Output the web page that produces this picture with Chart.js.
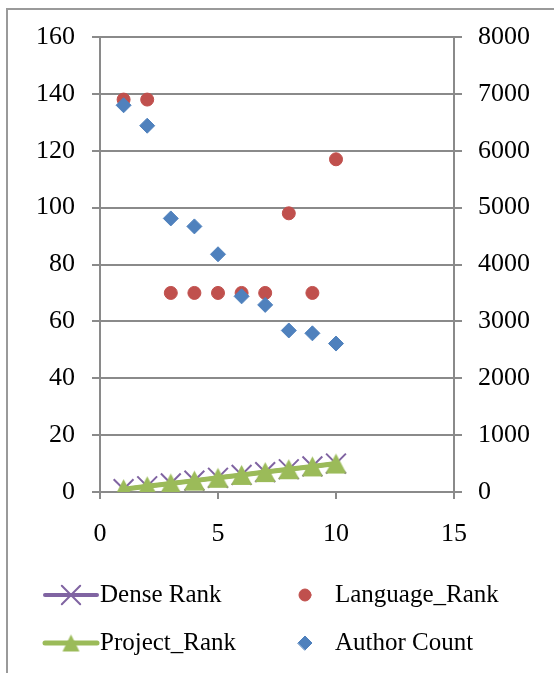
<!DOCTYPE html>
<html>
<head>
<meta charset="utf-8">
<title>Rank chart</title>
<script src="https://cdn.jsdelivr.net/npm/chart.js@4"></script>
<style>
  html, body { margin: 0; padding: 0; background: #fff; }
  #wrap { position: relative; width: 554px; height: 673px; }
</style>
</head>
<body>
<div id="wrap"><canvas id="rankChart" width="554" height="673"></canvas></div>
<script>
// values
const xValues = [1, 2, 3, 4, 5, 6, 7, 8, 9, 10];
const denseRank = [1, 2, 3, 4, 5, 6, 7, 8, 9, 10];
const projectRank = [1, 2, 3, 4, 5, 6, 7, 8, 9, 10];
const languageRank = [138, 138, 70, 70, 70, 70, 70, 98, 70, 117];
const authorCount = [6800, 6440, 4810, 4670, 4180, 3440, 3290, 2840, 2790, 2610];

const seriesNames = ["Dense Rank", "Language_Rank", "Project_Rank", "Author Count"];

const FONT = "'Liberation Serif', 'Times New Roman', serif";
const GRID = "#8a8a8a";

const toPoints = (ys) => xValues.map((x, i) => ({ x: x, y: ys[i] }));

// Excel style triangle: centred on its bounding box
function makeTriangle(w, h, color) {
  const c = document.createElement("canvas");
  c.width = Math.ceil(w) + 2;
  c.height = Math.ceil(h) + 2;
  const g = c.getContext("2d");
  g.fillStyle = color;
  g.beginPath();
  g.moveTo(c.width / 2, (c.height - h) / 2);
  g.lineTo((c.width + w) / 2, (c.height + h) / 2);
  g.lineTo((c.width - w) / 2, (c.height + h) / 2);
  g.closePath();
  g.fill();
  return c;
}

// outer frame of the chart object (right/bottom edges are cut off)
const framePlugin = {
  id: "frame",
  beforeDraw(chart) {
    const ctx = chart.ctx;
    ctx.save();
    ctx.strokeStyle = "#9a9a9a";
    ctx.lineWidth = 2;
    ctx.beginPath();
    ctx.moveTo(7, 673);
    ctx.lineTo(7, 9);
    ctx.lineTo(560, 9);
    ctx.stroke();
    ctx.restore();
  }
};

// two-column legend under the plot
const legendPlugin = {
  id: "twoColLegend",
  afterDraw(chart) {
    const ctx = chart.ctx;
    const slots = [
      { x: 45, y: 595 }, { x: 305, y: 595 },
      { x: 45, y: 643 }, { x: 305, y: 643 }
    ];
    ctx.save();
    ctx.font = "25px " + FONT;
    ctx.textBaseline = "middle";
    chart.data.datasets.forEach((ds) => {
      const slot = slots[seriesNames.indexOf(ds.label)];
      let mx = slot.x;
      let tx;
      if (ds.showLine) {
        ctx.strokeStyle = ds.borderColor;
        ctx.lineWidth = ds.borderWidth;
        ctx.lineCap = "round";
        ctx.beginPath();
        ctx.moveTo(slot.x, slot.y);
        ctx.lineTo(slot.x + 52, slot.y);
        ctx.stroke();
        mx = slot.x + 26;
        tx = slot.x + 55;
      } else {
        tx = slot.x + 30;
      }
      ctx.fillStyle = ds.pointBackgroundColor;
      ctx.strokeStyle = ds.pointBorderColor;
      ctx.lineWidth = ds.pointBorderWidth;
      Chart.helpers.drawPoint(ctx, {
        pointStyle: ds.legendStyle || ds.pointStyle,
        radius: ds.legendRadius,
        rotation: 0,
        borderWidth: ds.pointBorderWidth
      }, mx, slot.y);
      ctx.fillStyle = "#000";
      ctx.fillText(ds.label, tx, slot.y);
    });
    ctx.restore();
  }
};

const ctx = document.getElementById("rankChart").getContext("2d");
const rankChart = new Chart(ctx, {
  type: "scatter",
  data: {
    datasets: [
      {
        label: "Project_Rank",
        data: toPoints(projectRank),
        showLine: true,
        borderColor: "#9bbb59",
        borderWidth: 5,
        pointStyle: makeTriangle(21, 20, "#9bbb59"),
        legendStyle: makeTriangle(17, 17, "#9bbb59"),
        pointRadius: 11,
        legendRadius: 9,
        pointBackgroundColor: "#9bbb59",
        pointBorderColor: "#9bbb59",
        pointBorderWidth: 0,
        yAxisID: "y",
        order: 0
      },
      {
        label: "Author Count",
        data: toPoints(authorCount),
        showLine: false,
        pointStyle: "rectRot",
        pointRadius: 7.5,
        legendRadius: 7,
        pointBackgroundColor: "#4f81bd",
        pointBorderColor: "#4f81bd",
        pointBorderWidth: 1,
        yAxisID: "y2",
        order: 1
      },
      {
        label: "Language_Rank",
        data: toPoints(languageRank),
        showLine: false,
        pointStyle: "circle",
        pointRadius: 6.5,
        legendRadius: 6,
        pointBackgroundColor: "#c0504d",
        pointBorderColor: "#c0504d",
        pointBorderWidth: 1,
        yAxisID: "y",
        order: 2
      },
      {
        label: "Dense Rank",
        data: toPoints(denseRank),
        showLine: true,
        borderColor: "#8064a2",
        borderWidth: 4,
        pointStyle: "crossRot",
        pointRadius: 14,
        legendRadius: 13,
        pointBackgroundColor: "#8064a2",
        pointBorderColor: "#8064a2",
        pointBorderWidth: 2,
        yAxisID: "y",
        order: 3
      }
    ]
  },
  options: {
    responsive: false,
    animation: false,
    layout: { padding: { top: 37, left: 0, right: 0, bottom: 121 } },
    plugins: {
      legend: { display: false },
      tooltip: { enabled: false }
    },
    scales: {
      x: {
        type: "linear",
        min: 0,
        max: 15,
        ticks: { stepSize: 5, color: "#000", padding: 20, font: { family: FONT, size: 26 } },
        grid: { drawOnChartArea: false, drawTicks: true, tickLength: 7, color: GRID, lineWidth: 2 },
        border: { display: true, color: GRID, width: 2 },
        afterFit: (s) => { s.height = 60; }
      },
      y: {
        position: "left",
        min: 0,
        max: 160,
        ticks: { stepSize: 20, color: "#000", padding: 17, font: { family: FONT, size: 26 } },
        grid: { drawOnChartArea: true, drawTicks: true, tickLength: 8, color: GRID, lineWidth: 2 },
        border: { display: true, color: GRID, width: 2 },
        afterFit: (s) => { s.width = 100; }
      },
      y2: {
        position: "right",
        min: 0,
        max: 8000,
        ticks: {
          stepSize: 1000,
          color: "#000",
          padding: 16,
          font: { family: FONT, size: 26 },
          callback: (v) => String(v)
        },
        grid: { drawOnChartArea: false, drawTicks: true, tickLength: 8, color: GRID, lineWidth: 2 },
        border: { display: true, color: GRID, width: 2 },
        afterFit: (s) => { s.width = 100; }
      }
    }
  },
  plugins: [framePlugin, legendPlugin]
});
</script>
</body>
</html>
